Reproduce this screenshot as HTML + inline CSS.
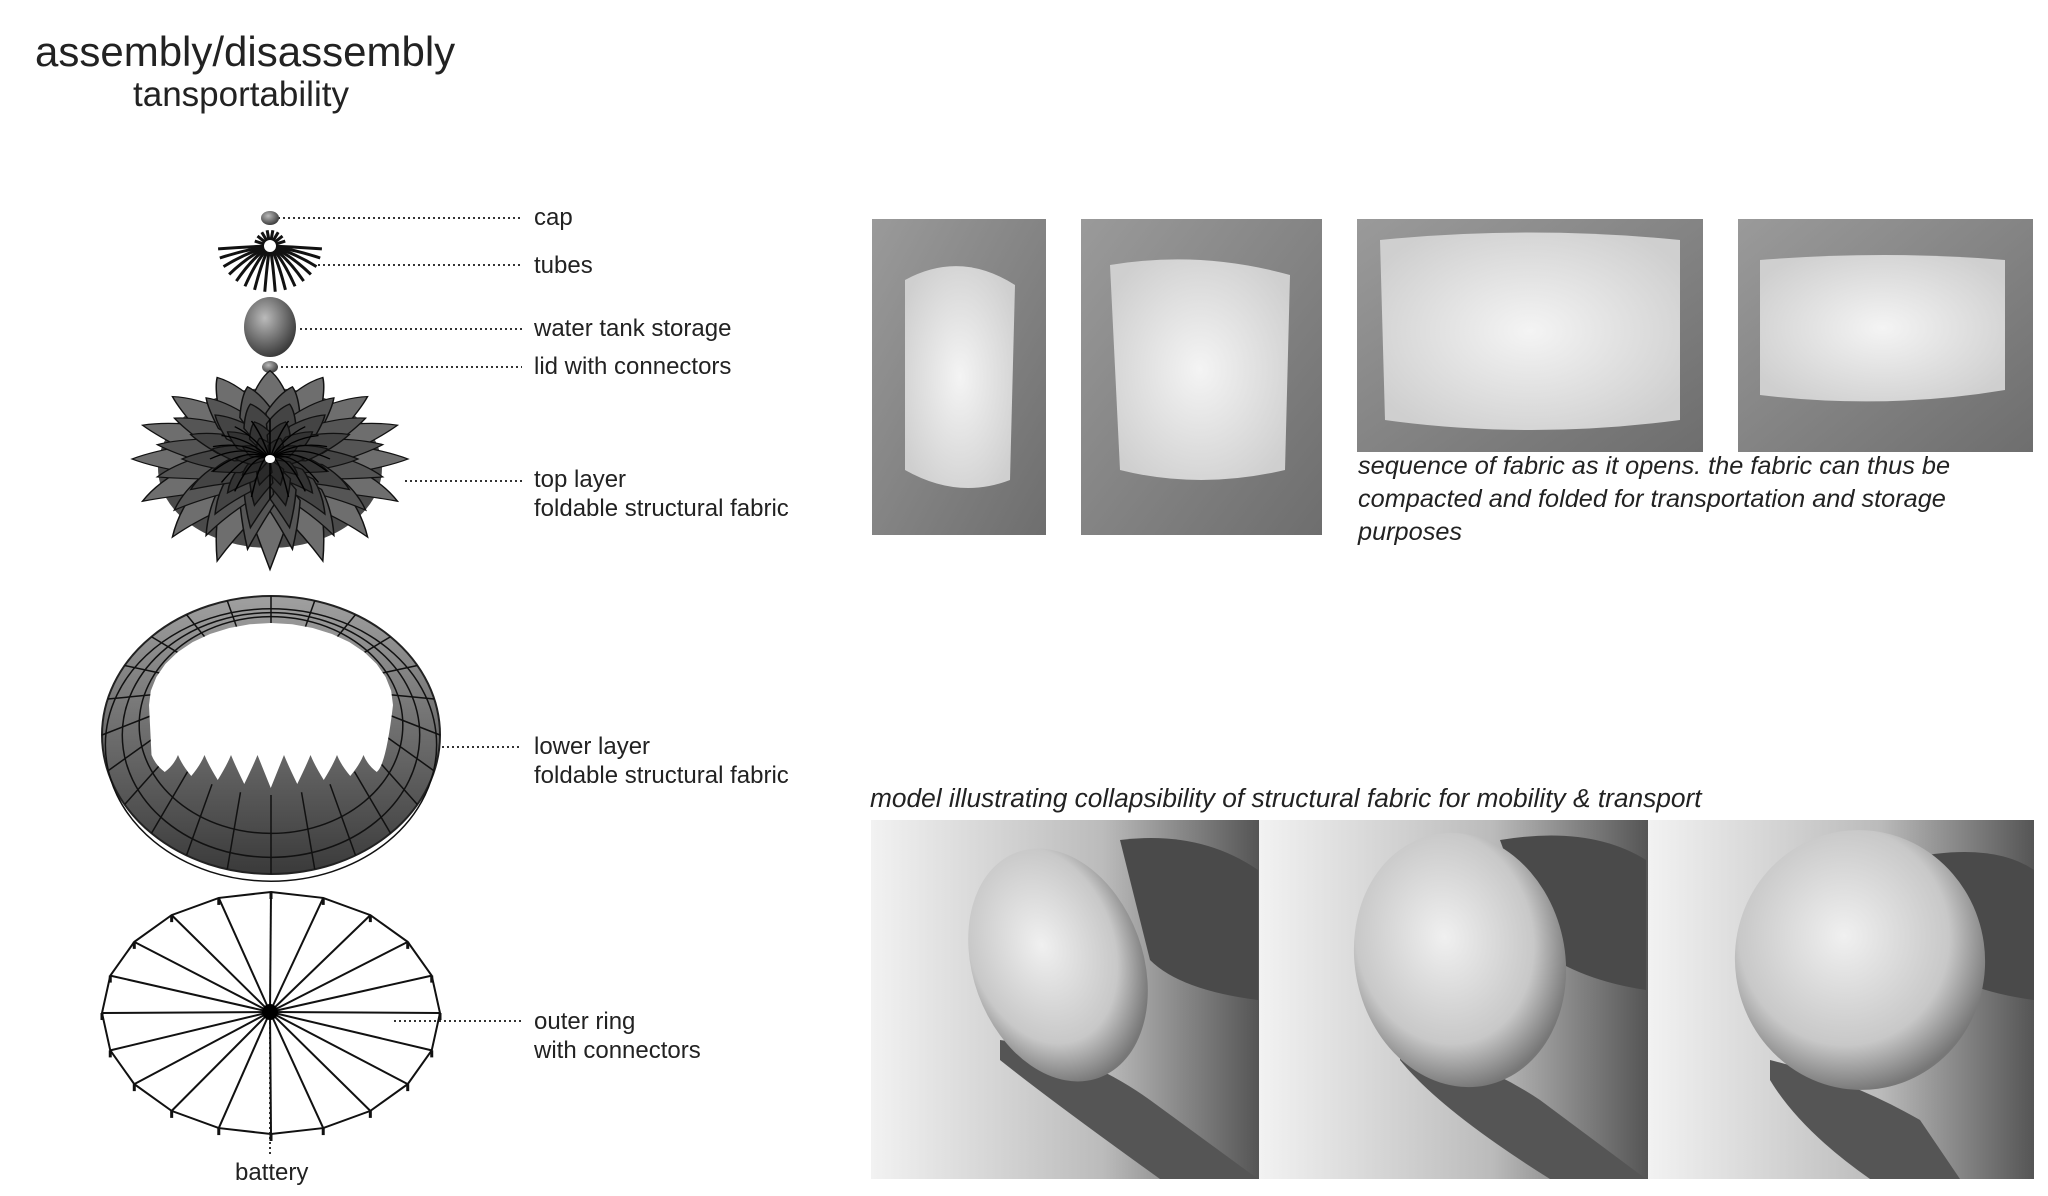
<!DOCTYPE html>
<html><head><meta charset="utf-8"><style>
html,body{margin:0;padding:0;background:#fff;width:2048px;height:1196px;overflow:hidden}
svg{display:block}
text{font-family:"Liberation Sans",sans-serif;fill:#222}
.lb{font-size:24px}
.it{font-size:25.3px;font-style:italic}
.dot{stroke:#333;stroke-width:2;stroke-dasharray:2 3;fill:none}
</style></head><body>
<svg id="s" width="2048" height="1196" viewBox="0 0 2048 1196" xmlns="http://www.w3.org/2000/svg">
<defs>
<radialGradient id="gsph" cx="0.4" cy="0.35" r="0.7"><stop offset="0" stop-color="#bbb"/><stop offset="1" stop-color="#333"/></radialGradient>
<linearGradient id="wall" x1="0" y1="0" x2="1" y2="1"><stop offset="0" stop-color="#9a9a9a"/><stop offset="1" stop-color="#6e6e6e"/></linearGradient>
<radialGradient id="fab" cx="0.5" cy="0.5" r="0.6"><stop offset="0" stop-color="#f4f4f4"/><stop offset="1" stop-color="#cfcfcf"/></radialGradient>
<linearGradient id="bg2" x1="0" y1="0" x2="1" y2="0"><stop offset="0" stop-color="#f2f2f2"/><stop offset="0.6" stop-color="#bbb"/><stop offset="1" stop-color="#555"/></linearGradient>
<radialGradient id="ball" cx="0.45" cy="0.4" r="0.6"><stop offset="0" stop-color="#f0f0f0"/><stop offset="0.7" stop-color="#c8c8c8"/><stop offset="1" stop-color="#777"/></radialGradient>
<linearGradient id="band" x1="0" y1="0" x2="0" y2="1"><stop offset="0" stop-color="#a0a0a0"/><stop offset="1" stop-color="#3a3a3a"/></linearGradient>
</defs>
<text x="35" y="66" style="font-size:42px">assembly/disassembly</text>
<text x="133" y="106" style="font-size:35px">tansportability</text>

<text class="lb" x="534" y="225">cap</text>
<text class="lb" x="534" y="273">tubes</text>
<text class="lb" x="534" y="336">water tank storage</text>
<text class="lb" x="534" y="374">lid with connectors</text>
<text class="lb" x="534" y="487">top layer</text>
<text class="lb" x="534" y="516">foldable structural fabric</text>
<text class="lb" x="534" y="754">lower layer</text>
<text class="lb" x="534" y="783">foldable structural fabric</text>
<text class="lb" x="534" y="1029">outer ring</text>
<text class="lb" x="534" y="1058">with connectors</text>
<text class="lb" x="235" y="1180">battery</text>

<path class="dot" d="M278 218H522 M313 265H522 M300 329H522 M281 367H522 M405 481H522 M392 747H522 M394 1021H522 M270 1012V1156"/>

<ellipse cx="270" cy="218" rx="9" ry="7" fill="url(#gsph)"/>
<ellipse cx="270" cy="327" rx="26" ry="30" fill="url(#gsph)"/>
<ellipse cx="270" cy="367" rx="8" ry="6" fill="url(#gsph)"/>
<g id="tubes" stroke="#111" stroke-width="3" fill="none"></g>
<circle cx="270" cy="246" r="7" fill="#fff" stroke="#111" stroke-width="2"/>

<ellipse cx="270" cy="468" rx="112" ry="80" fill="#4a4a4a"/>
<g transform="translate(0,8) translate(270,451) scale(1,0.8) translate(-270,-451)"><g id="flower"></g></g>
<g id="lower">
<ellipse cx="271" cy="735" rx="169" ry="139" fill="url(#band)" stroke="#222" stroke-width="2"/>
<g id="lowerlines" stroke="#111" stroke-width="1.5" fill="none"></g>
<path id="opening" fill="#fff"/>
</g>
<g id="ring" stroke="#111" stroke-width="2" fill="none"></g>
<circle cx="270" cy="1012" r="8" fill="#000"/>

<g>
<rect x="872" y="219" width="174" height="316" fill="url(#wall)"/>
<path d="M905 280 Q960 250 1015 285 L1010 480 Q958 500 905 470Z" fill="url(#fab)"/>
<rect x="1081" y="219" width="241" height="316" fill="url(#wall)"/>
<path d="M1110 265 Q1200 250 1290 275 L1285 470 Q1200 490 1120 470Z" fill="url(#fab)"/>
<rect x="1357" y="219" width="346" height="233" fill="url(#wall)"/>
<path d="M1380 240 Q1530 225 1680 240 L1680 420 Q1530 440 1385 420Z" fill="url(#fab)"/>
<rect x="1738" y="219" width="295" height="233" fill="url(#wall)"/>
<path d="M1760 260 Q1885 250 2005 260 L2005 390 Q1885 410 1760 395Z" fill="url(#fab)"/>
</g>
<text class="it" x="1358" y="474">sequence of fabric as it opens. the fabric can thus be</text>
<text class="it" x="1358" y="507">compacted and folded for transportation and storage</text>
<text class="it" x="1358" y="540">purposes</text>

<text class="it" x="870" y="807" style="font-size:26.3px">model illustrating collapsibility of structural fabric for mobility &amp; transport</text>
<g>
<rect x="871" y="820" width="388" height="359" fill="url(#bg2)"/>
<rect x="1259" y="820" width="389" height="359" fill="url(#bg2)"/>
<rect x="1648" y="820" width="386" height="359" fill="url(#bg2)"/>
<path d="M1120 840 Q1200 830 1258 870 L1258 1000 Q1180 990 1150 960Z" fill="#4a4a4a"/>
<path d="M1500 840 Q1590 825 1646 860 L1646 990 Q1580 980 1540 950Z" fill="#4a4a4a"/>
<path d="M1900 860 Q1990 840 2034 870 L2034 1000 Q1960 990 1930 960Z" fill="#4a4a4a"/>
<path d="M1000 1040 Q1080 1050 1150 1100 L1258 1179 L1160 1179 Q1050 1100 1000 1060Z" fill="#555"/>
<path d="M1400 1040 Q1480 1060 1540 1100 L1646 1179 L1550 1179 Q1440 1110 1400 1060Z" fill="#555"/>
<path d="M1770 1060 Q1850 1080 1920 1120 L1960 1179 L1870 1179 Q1800 1130 1770 1080Z" fill="#555"/>
<ellipse cx="1058" cy="965" rx="85" ry="120" transform="rotate(-20 1058 965)" fill="url(#ball)"/>
<ellipse cx="1460" cy="960" rx="105" ry="128" transform="rotate(-12 1460 960)" fill="url(#ball)"/>
<ellipse cx="1860" cy="960" rx="125" ry="130" transform="rotate(-8 1860 960)" fill="url(#ball)"/>
</g>
</svg>
<script>
var NS="http://www.w3.org/2000/svg";
function el(t,a,p){var e=document.createElementNS(NS,t);for(var k in a)e.setAttribute(k,a[k]);p.appendChild(e);return e;}
var tg=document.getElementById('tubes');
for(var i=0;i<16;i++){var a=Math.PI*(0.02+0.96*i/15);var x=270-Math.cos(a)*52,y=246+Math.sin(a)*46;
el('path',{d:'M270 246 Q'+(270-Math.cos(a)*26)+' '+(246+Math.sin(a)*14)+' '+x+' '+y},tg);}
for(var i=0;i<8;i++){var a=Math.PI*(1.1+0.8*i/7);el('line',{x1:270,y1:246,x2:270+Math.cos(a)*16,y2:246+Math.sin(a)*16},tg);}
var fg=document.getElementById('flower');var cx=270,cy=451;
var rings=[[138,100,16,'#6e6e6e',0],[115,88,16,'#555',0.5],[88,66,14,'#444',0],[60,44,12,'#333',0.5],[34,24,10,'#2a2a2a',0]];
rings.forEach(function(r){var R=r[0],n=r[2];
for(var i=0;i<n;i++){var a=2*Math.PI*(i+r[4])/n,w=Math.PI/n*1.3;
var tx=cx+Math.cos(a)*R,ty=cy+Math.sin(a)*R*0.8+(Math.sin(a)>0?Math.sin(a)*R*0.2:0);
var lx=cx+Math.cos(a-w)*R*0.6,ly=cy+Math.sin(a-w)*R*0.5;
var rx=cx+Math.cos(a+w)*R*0.6,ry2=cy+Math.sin(a+w)*R*0.5;
el('path',{d:'M'+cx+' '+cy+' L'+lx+' '+ly+' Q'+(cx+Math.cos(a-w*0.4)*R*0.85)+' '+(cy+Math.sin(a-w*0.4)*R*0.72)+' '+tx+' '+ty+' Q'+(cx+Math.cos(a+w*0.4)*R*0.85)+' '+(cy+Math.sin(a+w*0.4)*R*0.72)+' '+rx+' '+ry2+'Z',fill:r[3],stroke:'#111','stroke-width':1.5},fg);}});
for(var i=0;i<20;i++){var a=2*Math.PI*i/20;el('path',{d:'M'+cx+' '+cy+' Q'+(cx+Math.cos(a)*25)+' '+(cy+Math.sin(a)*10-20)+' '+(cx+Math.cos(a)*60)+' '+(cy+Math.sin(a)*50),stroke:'#000','stroke-width':1.5,fill:'none'},fg);}
el('circle',{cx:cx,cy:cy,r:5,fill:'#fff'},fg);
var ll=document.getElementById('lowerlines');
for(var i=0;i<24;i++){var a=2*Math.PI*i/24;el('line',{x1:271+Math.cos(a)*118,y1:715+Math.sin(a)*80,x2:271+Math.cos(a)*169,y2:735+Math.sin(a)*139},ll);}
for(var k=0;k<3;k++){var f=0.78+0.1*k;el('ellipse',{cx:271,cy:725+10*k,rx:169*f,ry:139*f},ll);}
var d='';var n=18;for(var i=0;i<=n;i++){var a=Math.PI+Math.PI*i/n;var x=271+Math.cos(a)*122,y=705+Math.sin(a)*82;d+=(i?'L':'M')+x+' '+y;}
for(var i=0;i<9;i++){var x0=390-i*26.5,x1=x0-26.5;var yy=760;
d+='Q'+(x0-4)+' '+(yy+5)+' '+((x0+x1)/2)+' '+(yy+28-Math.abs(i-4)*4)+'Q'+(x1+4)+' '+(yy+5)+' '+x1+' '+(yy-5);}
d+='Z';document.getElementById('opening').setAttribute('d',d);
var rg=document.getElementById('ring');var pts=[];
for(var i=0;i<20;i++){var a=2*Math.PI*i/20-Math.PI/2;pts.push([271+Math.cos(a)*169,1013+Math.sin(a)*121]);}
el('polygon',{points:pts.map(function(p){return p.join(',')}).join(' ')},rg);
pts.forEach(function(p){el('line',{x1:270,y1:1012,x2:p[0],y2:p[1]},rg);el('line',{x1:p[0],y1:p[1],x2:p[0],y2:p[1]+7,'stroke-width':3},rg);});
</script>
</body></html>
